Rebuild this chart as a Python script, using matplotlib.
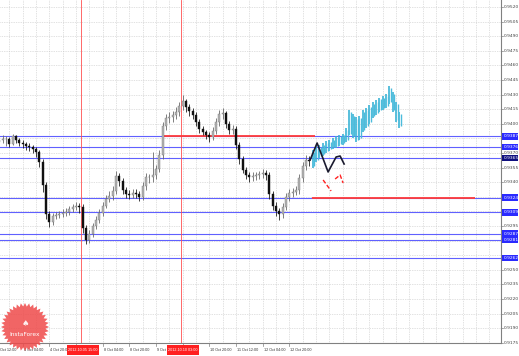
import matplotlib
matplotlib.use('Agg')
import matplotlib.pyplot as plt
import matplotlib.transforms as mtransforms
from matplotlib.patches import Rectangle, Polygon
import numpy as np

# ---------------- data ----------------
first_open = 0.9381
closes = [0.9383,0.9384,0.9384,0.9379,0.9387,0.9383,0.9380,0.9379,0.9377,0.9376,
          0.9374,0.9371,0.9361,0.9337,0.9307,0.9299,0.9305,0.9306,0.9307,0.9308,
          0.9309,0.9312,0.9315,0.9316,0.9315,0.9293,0.9281,0.9287,0.9295,0.9301,
          0.9308,0.9316,0.9323,0.9326,0.9331,0.9346,0.9341,0.9332,0.9328,0.9327,
          0.9329,0.9328,0.9325,0.9336,0.9345,0.9345,0.9347,0.9354,0.9368,0.9398,
          0.9406,0.9407,0.9409,0.9412,0.9418,0.9423,0.9417,0.9413,0.9409,0.9402,
          0.9395,0.9392,0.9389,0.9386,0.9393,0.9402,0.9410,0.9411,0.9400,0.9394,
          0.9395,0.9378,0.9364,0.9353,0.9347,0.9345,0.9346,0.9347,0.9348,0.9349,
          0.9347,0.9328,0.9316,0.9310,0.9307,0.9315,0.9325,0.9329,0.9330,0.9332,
          0.9344,0.9357,0.9363,0.9362]
highs = [0.9387,0.9388,0.9387,0.9386,0.9390,0.9389,0.9385,0.9383,0.9381,0.9380,
         0.9378,0.9376,0.9373,0.9364,0.9340,0.9310,0.9308,0.9309,0.9310,0.9312,
         0.9313,0.9316,0.9318,0.9320,0.9319,0.9318,0.9296,0.9291,0.9298,0.9305,
         0.9312,0.9320,0.9327,0.9331,0.9336,0.9352,0.9349,0.9344,0.9335,0.9332,
         0.9333,0.9333,0.9331,0.9340,0.9349,0.9348,0.9371,0.9358,0.9373,0.9402,
         0.9410,0.9412,0.9413,0.9417,0.9422,0.9430,0.9426,0.9420,0.9416,0.9412,
         0.9405,0.9398,0.9394,0.9392,0.9397,0.9406,0.9414,0.9416,0.9413,0.9403,
         0.9399,0.9398,0.9381,0.9367,0.9356,0.9350,0.9350,0.9351,0.9352,0.9354,
         0.9353,0.9350,0.9331,0.9320,0.9313,0.9319,0.9329,0.9333,0.9334,0.9336,
         0.9348,0.9361,0.9368,0.9367]
lows = [0.9378,0.9380,0.9377,0.9376,0.9378,0.9380,0.9377,0.9375,0.9373,0.9372,
        0.9370,0.9366,0.9356,0.9330,0.9302,0.9294,0.9296,0.9302,0.9303,0.9304,
        0.9305,0.9306,0.9309,0.9311,0.9308,0.9288,0.9276,0.9278,0.9284,0.9292,
        0.9298,0.9305,0.9313,0.9320,0.9322,0.9328,0.9336,0.9328,0.9324,0.9323,
        0.9324,0.9324,0.9321,0.9322,0.9332,0.9339,0.9340,0.9343,0.9350,0.9364,
        0.9394,0.9401,0.9402,0.9405,0.9408,0.9414,0.9412,0.9408,0.9405,0.9398,
        0.9391,0.9388,0.9384,0.9381,0.9383,0.9390,0.9398,0.9405,0.9396,0.9390,
        0.9390,0.9374,0.9359,0.9349,0.9343,0.9340,0.9341,0.9342,0.9343,0.9344,
        0.9342,0.9323,0.9311,0.9305,0.9301,0.9303,0.9311,0.9321,0.9325,0.9327,
        0.9328,0.9340,0.9353,0.9357]

fc_high = [0.9373,0.9377,0.9378,0.9380,0.9382,0.9383,0.9385,0.9387,0.9389,0.9390,
           0.9396,0.9414,0.9410,0.9407,0.9408,0.9414,0.9416,0.9419,0.9422,0.9424,
           0.9427,0.9429,0.9431,0.9439,0.9433,0.9422,0.9412]
fc_low = [0.9355,0.9361,0.9365,0.9367,0.9370,0.9372,0.9374,0.9375,0.9377,0.9378,
          0.9381,0.9388,0.9385,0.9381,0.9383,0.9392,0.9396,0.9400,0.9406,0.9409,
          0.9412,0.9414,0.9416,0.9420,0.9412,0.9402,0.9396]

zig_black_h = [188.4, 192.6, 199.2, 204.0, 206.4, 208.8]
zig_black_p = [0.93628, 0.93803, 0.93505, 0.93659, 0.93669, 0.93587]
zig_red1_h = [196.2, 201.0]
zig_red1_p = [0.93423, 0.93310]
zig_red2_h = [203.4, 206.4, 208.2]
zig_red2_p = [0.93433, 0.93474, 0.93392]

levels = [0.9387, 0.9376, 0.9365, 0.9324, 0.9309, 0.9287, 0.9281, 0.9262]
level_labels = ["0.9387", "0.9376", "0.9365", "0.9324", "0.9309", "0.9287", "0.9281", "0.9262"]
red_levels = [(0.9387, 99.6, 191.4), (0.9324, 189.6, 287.4)]
red_vlines = [51, 111]
red_vline_labels = ["2012.10.05 15:00", "2012.10.10 03:00"]

price_ticks = [0.9520,0.9505,0.9490,0.9475,0.9460,0.9445,0.9430,0.9415,0.9400,0.9385,
               0.9370,0.9355,0.9340,0.9325,0.9310,0.9295,0.9280,0.9265,0.9250,0.9235,
               0.9220,0.9205,0.9190,0.9175]
time_tick_h = [0, 16, 32, 48, 64, 80, 96, 112, 128, 144, 160, 176]
time_tick_labels = ["3 Oct 12:00", "4 Oct 04:00", "4 Oct 20:00", "",
                    "8 Oct 04:00", "8 Oct 20:00", "9 Oct", "",
                    "10 Oct 20:00", "11 Oct 12:00", "12 Oct 04:00", "12 Oct 20:00"]

# ---------------- figure ----------------
W, H = 519, 356
fig = plt.figure(figsize=(W / 100, H / 100), dpi=100)
fig.patch.set_facecolor('white')
ax = fig.add_axes([0, 13 / H, 501 / W, 343 / H])
ax.set_xlim(2.4, 302.9)
ax.set_ylim(0.91748, 0.95272)
ax.set_xticks([])
ax.set_yticks([])
for s in ['top', 'left']:
    ax.spines[s].set_visible(False)
for s in ['right', 'bottom']:
    ax.spines[s].set_color('#808080')
    ax.spines[s].set_linewidth(0.8)

# grid
gridstyle = dict(color='#c4c4c4', lw=0.5, ls=(0, (1, 1.5)), zorder=0)
for p in price_ticks:
    ax.axhline(p, **gridstyle)
for h in range(0, 304, 8):
    ax.axvline(h, **gridstyle)

# horizontal levels
for p in levels:
    ax.axhline(p, color='#6060ff', lw=0.8, zorder=1)
for p, h0, h1 in red_levels:
    ax.plot([h0, h1], [p, p], color='#ff3a3a', lw=1.3, zorder=2, solid_capstyle='butt')
for h in red_vlines:
    ax.axvline(h, color='#ff5050', lw=0.6, zorder=1)

# candles
hours = np.arange(2, 2 + 2 * len(closes), 2)
opens = [first_open] + closes[:-1]
for h, o, c, hi, lo in zip(hours, opens, closes, highs, lows):
    bull = c >= o
    ax.vlines(h, lo, hi, color='#6a6a6a' if bull else '#202020', lw=0.6, zorder=3)
    bottom = min(o, c)
    height = max(abs(c - o), 0.00006)
    ax.add_patch(Rectangle((h - 0.6, bottom), 1.2, height,
                           facecolor='#b4b4b4' if bull else '#101010',
                           edgecolor='#7a7a7a' if bull else '#101010',
                           lw=0.3, zorder=4))

# forecast bars (cyan)
fc_hours = np.arange(190, 190 + 2 * len(fc_high), 2)
ax.vlines(fc_hours, fc_low, fc_high, color='#3cb4d6', lw=1.2, zorder=4)
ax.vlines(fc_hours + 1, [l + 0.0002 for l in fc_low], [hh - 0.0002 for hh in fc_high],
          color='#4cbcdc', lw=1.0, zorder=4)

# zigzags
ax.plot(zig_black_h, zig_black_p, color='#1a1a2e', lw=1.2, zorder=5)
ax.plot(zig_red1_h, zig_red1_p, color='#ff2020', lw=1.0, ls=(0, (3, 1.5)), zorder=5)
ax.plot(zig_red2_h, zig_red2_p, color='#ff2020', lw=1.0, ls=(0, (3, 1.5)), zorder=5)

# right price labels
trans_r = mtransforms.blended_transform_factory(ax.transAxes, ax.transData)
for p in price_ticks:
    if any(abs(p - l) < 0.0005 for l in levels):
        continue
    ax.text(504 / 501, p, f"{p:.4f}", transform=trans_r, fontsize=3.2,
            color='#444444', va='center', ha='left', clip_on=False)
    ax.plot([1.0, 1.004], [p, p], transform=trans_r, color='#808080', lw=0.5, clip_on=False)
box_h = 0.00068
for i, (p, lab) in enumerate(zip(levels, level_labels)):
    col = '#101080' if i == 2 else '#2a2aff'
    ax.add_patch(Rectangle((502 / 501, p - box_h / 2), 15.5 / 501, box_h, transform=trans_r,
                           facecolor=col, edgecolor='none', clip_on=False, zorder=6))
    ax.text(503.5 / 501, p, lab, transform=trans_r, fontsize=3.2, color='white',
            va='center', ha='left', clip_on=False, zorder=7)

# bottom time labels
trans_b = mtransforms.blended_transform_factory(ax.transData, ax.transAxes)
for h, lab in zip(time_tick_h, time_tick_labels):
    ax.plot([h, h], [0, -0.01], transform=trans_b, color='#808080', lw=0.5, clip_on=False)
    if lab:
        ax.text(h + 0.5, -0.021, lab, transform=trans_b, fontsize=2.7,
                family='Liberation Sans', color='#333333',
                va='center', ha='left', clip_on=False)
for h, lab in zip(red_vlines, red_vline_labels):
    ax.add_patch(Rectangle((h - 8.5, -0.036), 19.4, 0.03, transform=trans_b,
                           facecolor='#ff2020', edgecolor='none', clip_on=False, zorder=6))
    ax.text(h + 1.2, -0.021, lab, transform=trans_b, fontsize=2.7, family='Liberation Sans',
            color='white', va='center', ha='center', clip_on=False, zorder=7)

# logo (starburst)
cx, cy, r_out, r_in, n = 25, 327, 24, 20.5, 36
ang = np.linspace(0, 2 * np.pi, 2 * n, endpoint=False)
rad = np.where(np.arange(2 * n) % 2 == 0, r_out, r_in)
pts = np.column_stack([(cx + rad * np.cos(ang)) / 100, (H - (cy + rad * np.sin(ang))) / 100])
fig.add_artist(Polygon(pts, closed=True, transform=fig.dpi_scale_trans,
                       facecolor='#ef4a4a', edgecolor='none', alpha=0.85, zorder=10))
fig.text(cx / W, 1 - 335 / H, "InstaForex", fontsize=4.2, color='white',
         ha='center', va='center', zorder=11)
fig.text(cx / W, 1 - 324 / H, "\u2660", fontsize=6, color='white',
         ha='center', va='center', zorder=11, alpha=0.9)

fig.savefig('out.png', dpi=100, facecolor='white')
